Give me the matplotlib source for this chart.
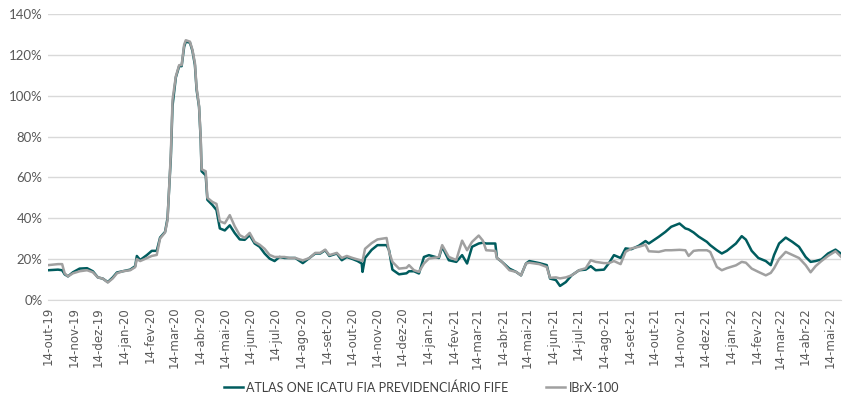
import numpy as np
import pandas as pd
import matplotlib
matplotlib.use("Agg")
import matplotlib.pyplot as plt

# Volatilidade (%)
datas = ["2019-10-14", "2019-10-26", "2019-10-31", "2019-11-03", "2019-11-07", "2019-11-13",
         "2019-11-21", "2019-11-30", "2019-12-07", "2019-12-13", "2019-12-19", "2019-12-25",
         "2019-12-31", "2020-01-05", "2020-01-12", "2020-01-21", "2020-01-27", "2020-01-29",
         "2020-02-02", "2020-02-10", "2020-02-16", "2020-02-22", "2020-02-26", "2020-03-03",
         "2020-03-06", "2020-03-10", "2020-03-12", "2020-03-16", "2020-03-20", "2020-03-23",
         "2020-03-26", "2020-03-28", "2020-04-02", "2020-04-05", "2020-04-08", "2020-04-10",
         "2020-04-13", "2020-04-15", "2020-04-16", "2020-04-21", "2020-04-23", "2020-04-29",
         "2020-05-04", "2020-05-08", "2020-05-14", "2020-05-20", "2020-05-26", "2020-06-01",
         "2020-06-07", "2020-06-13", "2020-06-19", "2020-06-25", "2020-07-01", "2020-07-07",
         "2020-07-13", "2020-07-19", "2020-07-25", "2020-07-31", "2020-08-07", "2020-08-16",
         "2020-08-24", "2020-08-31", "2020-09-06", "2020-09-12", "2020-09-17", "2020-09-26",
         "2020-10-02", "2020-10-08", "2020-10-15", "2020-10-21", "2020-10-26", "2020-10-27",
         "2020-10-30", "2020-11-07", "2020-11-14", "2020-11-25", "2020-11-28", "2020-12-02",
         "2020-12-10", "2020-12-19", "2020-12-22", "2020-12-28", "2021-01-03", "2021-01-09",
         "2021-01-15", "2021-01-27", "2021-01-31", "2021-02-08", "2021-02-17", "2021-02-24",
         "2021-03-02", "2021-03-08", "2021-03-16", "2021-03-21", "2021-03-25", "2021-04-05",
         "2021-04-07", "2021-04-13", "2021-04-22", "2021-04-30", "2021-05-06", "2021-05-12",
         "2021-05-16", "2021-05-28", "2021-06-06", "2021-06-10", "2021-06-17", "2021-06-22",
         "2021-06-29", "2021-07-06", "2021-07-15", "2021-07-23", "2021-07-29", "2021-08-04",
         "2021-08-14", "2021-08-20", "2021-08-26", "2021-09-03", "2021-09-09", "2021-09-16",
         "2021-09-25", "2021-10-03", "2021-10-07", "2021-10-19", "2021-10-27", "2021-11-03",
         "2021-11-13", "2021-11-20", "2021-11-24", "2021-11-30", "2021-12-06", "2021-12-16",
         "2021-12-20", "2021-12-28", "2022-01-03", "2022-01-09", "2022-01-20", "2022-01-27",
         "2022-02-01", "2022-02-08", "2022-02-16", "2022-02-25", "2022-03-03", "2022-03-07",
         "2022-03-13", "2022-03-21", "2022-03-29", "2022-04-06", "2022-04-14", "2022-04-20",
         "2022-04-26", "2022-05-03", "2022-05-11", "2022-05-20", "2022-05-27"]

atlas = [14.5, 14.8, 14.5, 12.5, 11.5, 13.5,
         15.3, 15.5, 14.0, 11.0, 10.4, 8.7,
         11.0, 13.4, 14.0, 14.8, 16.5, 21.5,
         19.5, 21.9, 24.0, 24.0, 30.5, 33.3,
         40.0, 70.0, 95.0, 109.0, 114.5, 114.5,
         124.0, 126.5, 126.0, 122.0, 115.0, 103.0,
         94.5, 78.0, 63.0, 61.0, 49.0, 46.5,
         44.0, 35.0, 34.0, 36.5, 32.7, 29.6,
         29.4, 31.7, 27.6, 26.0, 22.7, 20.2,
         19.0, 21.0, 20.5, 20.5, 20.5, 18.0,
         20.5, 22.7, 22.7, 24.3, 21.5, 22.7,
         19.4, 21.0, 20.0, 19.0, 17.8, 13.7,
         20.5, 24.5, 26.8, 26.8, 24.3, 14.8,
         12.5, 13.0, 14.0, 14.0, 12.9, 21.0,
         21.9, 20.5, 26.0, 19.4, 18.6, 21.9,
         17.8, 26.0, 27.6, 28.0, 27.6, 27.6,
         20.5, 18.6, 15.3, 13.7, 12.0, 17.8,
         19.0, 18.0, 17.0, 10.4, 9.7, 6.8,
         8.7, 12.0, 14.5, 14.8, 16.5, 14.5,
         14.8, 18.0, 21.9, 20.5, 25.2, 24.8,
         26.5, 28.8, 27.6, 30.9, 33.3, 35.8,
         37.4, 35.0, 34.5, 33.0, 31.0, 28.4,
         26.8, 24.3, 22.7, 24.0, 27.6, 31.2,
         29.5, 24.0, 20.5, 19.0, 17.0, 22.0,
         27.6, 30.5, 28.4, 26.0, 21.0, 18.6,
         19.0, 19.8, 22.7, 24.6, 22.5]

ibrx = [17.0, 17.5, 17.5, 13.0, 11.5, 13.0,
        14.0, 14.5, 13.5, 11.0, 10.4, 8.5,
        10.5, 13.0, 14.0, 14.5, 16.0, 20.0,
        19.0, 20.4, 21.5, 22.0, 30.0, 33.0,
        39.0, 72.0, 98.0, 109.5, 115.0, 115.0,
        125.0, 127.2, 126.5, 122.5, 116.0, 104.0,
        95.0, 79.0, 64.0, 63.0, 50.0, 48.0,
        47.0, 38.5, 37.5, 41.5, 36.0, 31.7,
        30.4, 32.8, 28.4, 27.0, 25.0, 22.0,
        21.0, 21.0, 21.0, 20.5, 20.5, 19.3,
        20.5, 23.0, 23.0, 24.6, 21.9, 23.0,
        20.5, 21.5, 20.5, 19.8, 19.2, 19.0,
        25.0, 27.8, 29.6, 30.3, 23.5, 18.6,
        15.3, 15.7, 17.0, 14.5, 13.7, 17.8,
        20.2, 21.0, 26.8, 21.0, 19.5, 29.0,
        24.3, 28.4, 31.5, 29.0, 24.3, 24.0,
        20.5, 18.6, 14.5, 13.7, 12.0, 17.8,
        18.2, 17.5, 16.1, 10.8, 11.0, 10.5,
        11.0, 12.0, 14.5, 15.5, 19.4, 18.6,
        18.0, 18.0, 19.0, 17.5, 23.5, 25.2,
        26.0, 27.0, 23.8, 23.5, 24.3, 24.3,
        24.5, 24.3, 21.5, 24.0, 24.3, 24.3,
        23.5, 16.1, 14.5, 15.5, 16.9, 18.6,
        18.2, 15.3, 13.7, 12.0, 13.2, 15.5,
        20.0, 23.5, 22.0, 20.5, 17.0, 13.5,
        16.5, 19.0, 21.5, 23.8, 21.0]

meses = ["jan", "fev", "mar", "abr", "mai", "jun", "jul", "ago", "set", "out", "nov", "dez"]
ticks = pd.date_range("2019-10-01", "2022-05-01", freq="MS") + pd.Timedelta(days=13)
tick_labels = ["14-" + meses[t.month - 1] + "-" + str(t.year)[2:] for t in ticks]

datas = pd.to_datetime(datas)

fig = plt.figure(figsize=(8.43, 4.03), dpi=100)
ax = fig.add_axes([0.057, 0.256, 0.941, 0.709])

ax.plot(datas, atlas, color="#005C5E", lw=1.8, label="ATLAS ONE ICATU FIA PREVIDENCIÁRIO FIFE")
ax.plot(datas, ibrx, color="#A0A0A0", lw=1.8, label="IBrX-100")

ax.set_ylim(0, 140)
ax.set_yticks(np.arange(0, 141, 20))
ax.set_yticklabels([f"{v}%" for v in range(0, 141, 20)], fontfamily="Lato", fontsize=9.5, color="#595959")
ax.set_xlim(pd.Timestamp("2019-10-14"), pd.Timestamp("2022-05-27"))
ax.set_xticks(ticks)
ax.set_xticklabels(tick_labels, rotation=90, fontsize=8.5, color="#595959")
ax.tick_params(length=0, pad=4)
ax.tick_params(axis="x", pad=5)

ax.grid(axis="y", color="#D9D9D9", lw=1)
ax.set_axisbelow(True)
for s in ["top", "right", "left"]:
    ax.spines[s].set_visible(False)
ax.spines["bottom"].set_color("#D9D9D9")

fig.legend(loc="lower center", bbox_to_anchor=(0.5, -0.005), ncol=2, frameon=False,
           prop={"family": "Lato", "size": 9}, labelcolor="#404040",
           handlelength=1.5, handletextpad=0.3, columnspacing=3)

fig.savefig("out.png", dpi=100)
